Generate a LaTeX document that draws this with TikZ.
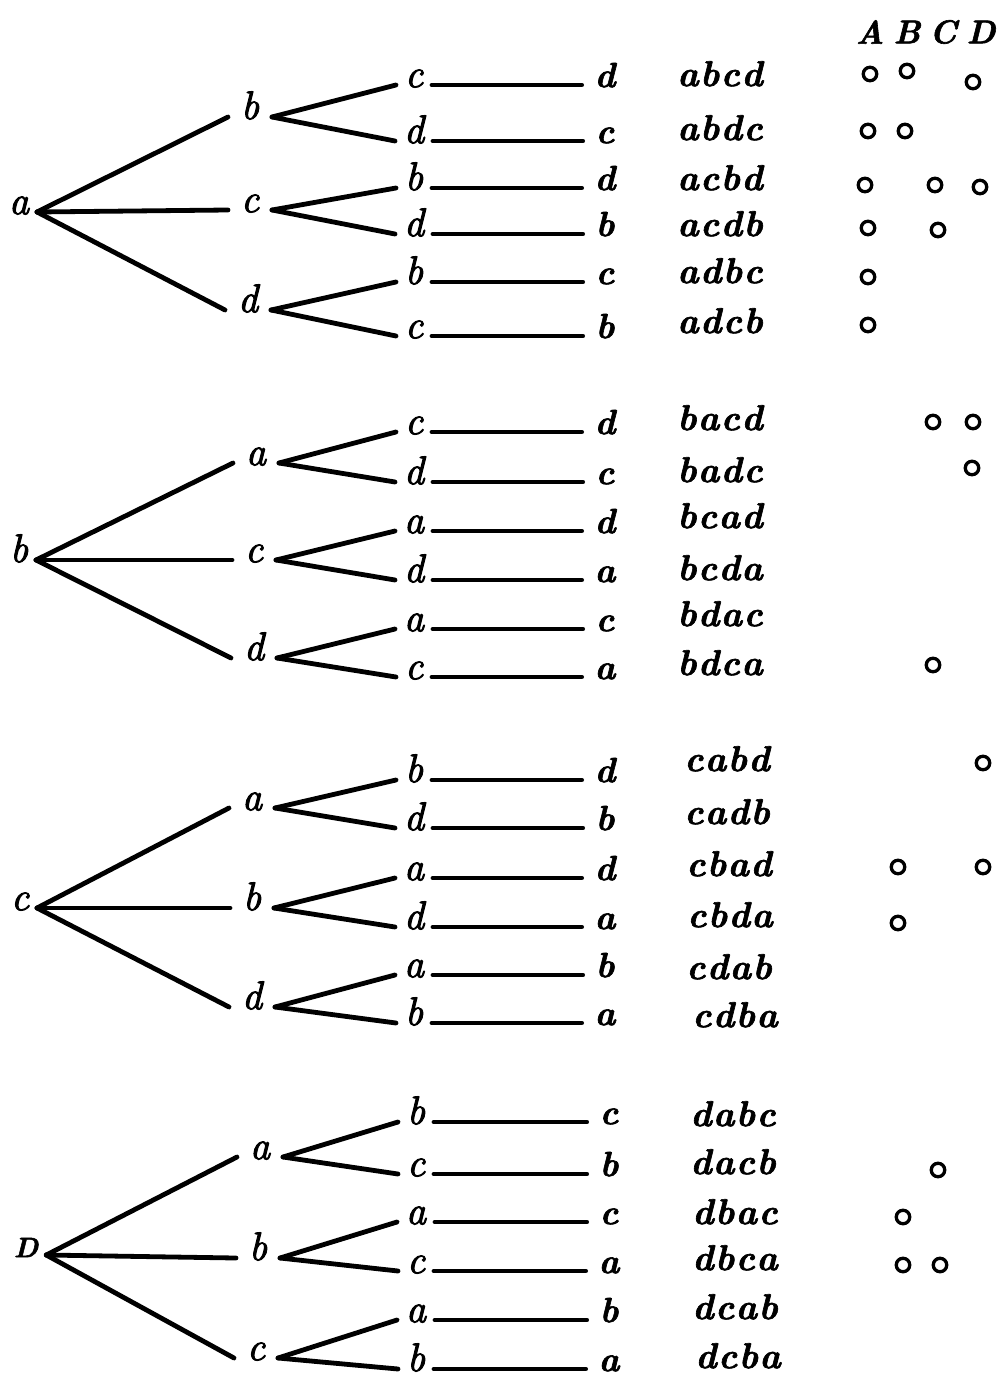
\documentclass[tikz,border=0pt]{standalone}
\usepackage{fontspec}
\newfontfamily\treefont[FakeBold=2.5]{Latin Modern Roman}
\newfontfamily\heavyfont[FakeBold=1.8]{Latin Modern Roman}
\begin{document}
\begin{tikzpicture}[x=1pt,y=-1pt,
  edge/.style={line width=4.8pt,line cap=round},
  lt/.style={inner sep=0pt,text height=1ex,text depth=0pt,font=\fontsize{40}{44}\treefont\itshape},
  rootl/.style={lt,outer xsep=8pt},
  midl/.style={lt,outer xsep=13pt},
  leafl/.style={lt,outer xsep=9pt},
  finl/.style={lt,outer xsep=13pt,font=\fontsize{35}{38}\heavyfont\bfseries\itshape},
  perm/.style={inner sep=0pt,text height=1ex,text depth=0pt,font=\fontsize{36}{40}\heavyfont\bfseries\itshape},
  head/.style={inner sep=0pt,font=\fontsize{33}{36}\heavyfont\bfseries\itshape},
  ring/.style={circle,draw,line width=3.3pt,minimum size=13.5pt,inner sep=0pt}]
\useasboundingbox (0,0) rectangle (1000,1388);
\fill[white] (0,0) rectangle (1000,1388);
\newcommand{\pw}[4]{#1\kern1.5pt#2\kern1.5pt#3\kern1.5pt#4}

% ---------- tree rooted at a ----------
\node[rootl] (r1) at (19,212) {a};
\foreach \n/\x/\y/\t in {1/250/117/b,2/250/210/c,3/248/310/d}
  \node[midl] (r1m\n) at (\x,\y) {\t};
\foreach \n/\y/\t/\f in {1/85/c/d,2/141/d/c,3/188/b/d,4/234/d/b,5/282/b/c,6/336/c/b}{
  \node[leafl] (r1l\n) at (414,\y) {\t};
  \node[finl] (r1f\n) at (605,\y) {\f};
  \draw[edge] (r1l\n.east) -- (r1f\n.west);}
\foreach \n in {1,2,3} \draw[edge] (r1.east) -- (r1m\n.west);
\foreach \m/\l in {1/1,1/2,2/3,2/4,3/5,3/6} \draw[edge] (r1m\m.east) -- (r1l\l.west);

% ---------- tree rooted at b ----------
\node[rootl] (r2) at (19,560) {b};
\foreach \n/\x/\y/\t in {1/256/463/a,2/254/560/c,3/254/658/d}
  \node[midl] (r2m\n) at (\x,\y) {\t};
\foreach \n/\y/\t/\f in {1/432/c/d,2/482/d/c,3/531/a/d,4/580/d/a,5/629/a/c,6/677/c/a}{
  \node[leafl] (r2l\n) at (414,\y) {\t};
  \node[finl] (r2f\n) at (605,\y) {\f};
  \draw[edge] (r2l\n.east) -- (r2f\n.west);}
\foreach \n in {1,2,3} \draw[edge] (r2.east) -- (r2m\n.west);
\foreach \m/\l in {1/1,1/2,2/3,2/4,3/5,3/6} \draw[edge] (r2m\m.east) -- (r2l\l.west);

% ---------- tree rooted at c ----------
\node[rootl] (r3) at (20,908) {c};
\foreach \n/\x/\y/\t in {1/252/808/a,2/252/908/b,3/252/1007/d}
  \node[midl] (r3m\n) at (\x,\y) {\t};
\foreach \n/\y/\t/\f in {1/780/b/d,2/828/d/b,3/878/a/d,4/927/d/a,5/975/a/b,6/1023/b/a}{
  \node[leafl] (r3l\n) at (414,\y) {\t};
  \node[finl] (r3f\n) at (605,\y) {\f};
  \draw[edge] (r3l\n.east) -- (r3f\n.west);}
\foreach \n in {1,2,3} \draw[edge] (r3.east) -- (r3m\n.west);
\foreach \m/\l in {1/1,1/2,2/3,2/4,3/5,3/6} \draw[edge] (r3m\m.east) -- (r3l\l.west);

% ---------- tree rooted at D ----------
\node[rootl,font=\fontsize{28}{30}\heavyfont\bfseries\itshape] (r4) at (26,1255) {D};
\foreach \n/\x/\y/\t in {1/260/1157/a,2/258/1258/b,3/256/1358/c}
  \node[midl] (r4m\n) at (\x,\y) {\t};
\foreach \n/\y/\t/\f in {1/1122/b/c,2/1174/c/b,3/1222/a/c,4/1271/c/a,5/1320/a/b,6/1369/b/a}{
  \node[leafl] (r4l\n) at (416,\y) {\t};
  \node[finl] (r4f\n) at (609,\y) {\f};
  \draw[edge] (r4l\n.east) -- (r4f\n.west);}
\foreach \n in {1,2,3} \draw[edge] (r4.east) -- (r4m\n.west);
\foreach \m/\l in {1/1,1/2,2/3,2/4,3/5,3/6} \draw[edge] (r4m\m.east) -- (r4l\l.west);

% ---------- list of the orderings ----------
\foreach \n/\x/\y/\p/\q/\r/\s in {
  1/720/84/a/b/c/d, 2/720/138/a/b/d/c, 3/720/188/a/c/b/d,
  4/720/234/a/c/d/b, 5/720/281/a/d/b/c, 6/720/331/a/d/c/b,
  7/720/428/b/a/c/d, 8/720/480/b/a/d/c, 9/720/526/b/c/a/d,
  10/720/578/b/c/d/a, 11/720/624/b/d/a/c, 12/720/673/b/d/c/a,
  13/727/769/c/a/b/d, 14/727/822/c/a/d/b, 15/729/874/c/b/a/d,
  16/730/925/c/b/d/a, 17/729/977/c/d/a/b, 18/735/1025/c/d/b/a,
  19/733/1124/d/a/b/c, 20/733/1172/d/a/c/b, 21/735/1222/d/b/a/c,
  22/735/1268/d/b/c/a, 23/735/1317/d/c/a/b, 24/738/1366/d/c/b/a}
  \node[perm] (w\n) at (\x,\y) {\pw{\p}{\q}{\r}{\s}};

% ---------- column heads ----------
\node[head] (hA) at (870,32) {A};
\node[head] (hB) at (907,32) {B};
\node[head] (hC) at (943,32) {C};
\node[head] (hD) at (981,32) {D};

% ---------- marks ----------
\foreach \n/\x/\y in {
  1/870/74, 2/907/71, 3/973/82,
  4/868/131, 5/905/131,
  6/865/185, 7/935/185, 8/980/187,
  9/868/228, 10/938/230,
  11/868/277, 12/868/325,
  13/933/422, 14/973/422,
  15/972/468, 16/933/665,
  17/983/763, 18/898/867, 19/983/867, 20/898/923,
  21/938/1170, 22/903/1217, 23/903/1265, 24/940/1265}
  \node[ring] (o\n) at (\x,\y) {};
\end{tikzpicture}
\end{document}
